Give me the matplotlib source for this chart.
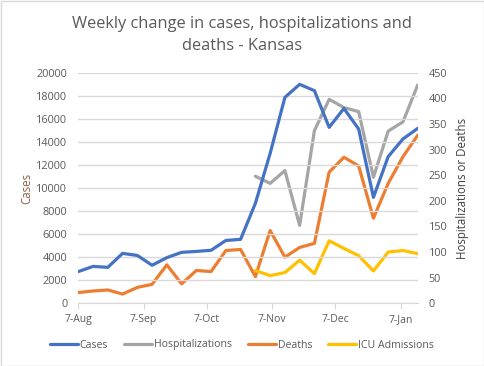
import numpy as np
import matplotlib
matplotlib.use('Agg')
import matplotlib.pyplot as plt
import matplotlib.dates as mdates
from matplotlib.patches import Rectangle

plt.rcParams['font.family'] = ['Open Sans', 'DejaVu Sans']

# weekly dates (one point per week)
dates = np.array([
    '2020-08-07', '2020-08-14', '2020-08-21', '2020-08-28',
    '2020-09-04', '2020-09-11', '2020-09-18', '2020-09-25',
    '2020-10-02', '2020-10-09', '2020-10-16', '2020-10-23',
    '2020-10-30', '2020-11-06', '2020-11-13', '2020-11-20',
    '2020-11-27', '2020-12-04', '2020-12-11', '2020-12-18',
    '2020-12-25', '2021-01-01', '2021-01-08', '2021-01-15',
], dtype='datetime64[D]')

cases = [2750, 3200, 3120, 4330, 4150, 3300, 3960, 4420, 4500, 4600, 5450, 5550,
         8670, 13000, 17860, 18990, 18440, 15260, 16900, 15110, 9190, 12720, 14250, 15170]

nan = np.nan
hospitalizations = [nan] * 12 + [248, 234, 259, 152, 337, 398, 382, 374, 246, 336, 354, 426]
deaths = [21, 24, 26, 18, 31, 37, 75, 38, 64, 62, 103, 105,
          52, 142, 90, 109, 117, 256, 285, 268, 166, 234, 286, 328]
icu = [nan] * 12 + [64, 54, 60, 84, 58, 122, 107, 93, 63, 100, 103, 97]

tick_dates = np.array(['2020-08-07', '2020-09-07', '2020-10-07',
                       '2020-11-07', '2020-12-07', '2021-01-07'], dtype='datetime64[D]')

c_cases = '#4472C4'
c_hosp = '#A5A5A5'
c_deaths = '#ED7D31'
c_icu = '#FFC000'
txt = '#595959'
grid = '#D9D9D9'

fig = plt.figure(figsize=(4.84, 3.66), dpi=100)
ax = fig.add_axes([78.3 / 484, 1 - 303.3 / 366, (417.7 - 78.3) / 484, (303.3 - 72.7) / 366])
ax2 = ax.twinx()

lw = 2.3
l1, = ax.plot(dates, cases, color=c_cases, lw=lw, label='Cases', solid_capstyle='round')
l2, = ax2.plot(dates, hospitalizations, color=c_hosp, lw=lw, label='Hospitalizations', solid_capstyle='round')
l3, = ax2.plot(dates, deaths, color=c_deaths, lw=lw, label='Deaths', solid_capstyle='round')
l4, = ax2.plot(dates, icu, color=c_icu, lw=lw, label='ICU Admissions', solid_capstyle='round')
ax.set_zorder(ax2.get_zorder() + 1)
ax.patch.set_visible(False)

ax.set_ylim(0, 20000)
ax.set_yticks(np.arange(0, 20001, 2000))
ax2.set_ylim(0, 450)
ax2.set_yticks(np.arange(0, 451, 50))
ax.set_xlim(dates[0], dates[-1])
ax.set_xticks(tick_dates)
ax.xaxis.set_major_formatter(mdates.DateFormatter('%-d-%b'))

ax.grid(axis='y', color=grid, lw=1)
ax.set_axisbelow(True)
for a in (ax, ax2):
    for s in a.spines.values():
        s.set_visible(False)
ax.spines['bottom'].set_visible(True)
ax.spines['bottom'].set_color(grid)
ax.tick_params(axis='x', colors=grid, labelcolor=txt, labelsize=7.5, length=4, pad=4)
ax.tick_params(axis='y', length=0, labelcolor=txt, labelsize=7.8, pad=8)
ax2.tick_params(axis='y', length=0, labelcolor=txt, labelsize=7.8, pad=8)

ax.set_ylabel('Cases', color='#8B5E45', fontsize=8.3, labelpad=2)
ax2.set_ylabel('Hospitalizations or Deaths', color='#404040', fontsize=8.3, labelpad=6)

fig.text(0.5, 1 - 35 / 366, 'Weekly change in cases, hospitalizations and\ndeaths - Kansas',
         ha='center', va='center', color=txt, fontsize=11.8, linespacing=1.45)

fig.legend([l1, l2, l3, l4], ['Cases', 'Hospitalizations', 'Deaths', 'ICU Admissions'],
           loc='center', bbox_to_anchor=(0.5, 1 - 345 / 366), ncol=4, frameon=False,
           fontsize=7.6, labelcolor=txt, handlelength=2.65, handletextpad=0.2, columnspacing=1.5)

fig.patches.append(Rectangle((0.5 / 484, 0.5 / 366), 1 - 1 / 484, 1 - 1 / 366,
                             transform=fig.transFigure, fill=False, edgecolor=grid, lw=1))

fig.savefig('out.png', dpi=100)
